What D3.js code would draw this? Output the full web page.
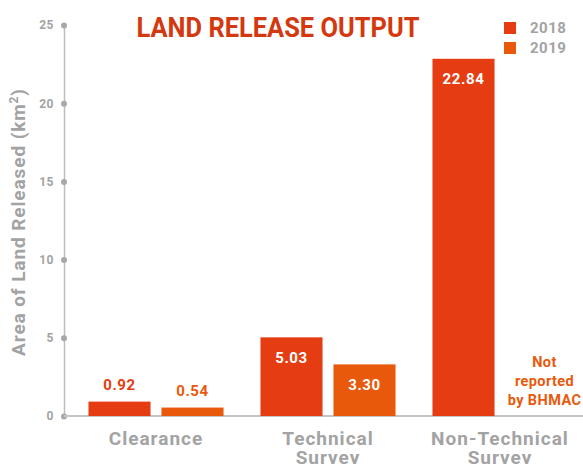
<!DOCTYPE html>
<html>
<head>
<meta charset="utf-8">
<script src="https://cdn.jsdelivr.net/npm/d3@7"></script>
<style>
  body { margin: 0; background: #fff; }
  svg text { font-family: Roboto, "DejaVu Sans", sans-serif; font-weight: bold; }
</style>
</head>
<body>
<div id="chart"></div>
<script>
var categories = ["Clearance", "Technical Survey", "Non-Technical Survey"];
var years = ["2018", "2019"];
var values2018 = [0.92, 5.03, 22.84];
var values2019 = [0.54, 3.30, null];
var yTicks = [0, 5, 10, 15, 20, 25];
var missingNote = ["Not", "reported", "by BHMAC"];

var colors = {"2018": "#e63c12", "2019": "#e9590c"};
var grey = "#a3a3a3";

var svg = d3.select("#chart").append("svg")
  .attr("width", 583)
  .attr("height", 464);

var x = d3.scaleBand()
  .domain(categories)
  .range([70, 586]);

var xs = d3.scaleBand()
  .domain(years)
  .range([0, x.bandwidth()])
  .paddingInner(0.15)
  .paddingOuter(0.253);

var y = d3.scaleLinear()
  .domain([0, 25])
  .range([416, 25]);

// y axis
var yAxis = svg.append("g")
  .attr("transform", "translate(64,0)")
  .call(d3.axisLeft(y).tickValues(yTicks).tickSize(0).tickPadding(10));
yAxis.select(".domain").attr("stroke", "#bdbdbd").attr("stroke-width", 1.5);
yAxis.selectAll("text").attr("fill", grey).style("font-size", "12px").style("letter-spacing", "0.5px");
yAxis.selectAll(".tick").append("circle").attr("r", 3).attr("fill", "#a8a8a8");

// baseline
svg.append("line")
  .attr("x1", 64).attr("x2", 583)
  .attr("y1", y(0)).attr("y2", y(0))
  .attr("stroke", "#c4c4c4").attr("stroke-width", 2);

// bars
var rows = [];
categories.forEach(function(c, i) {
  rows.push({cat: c, year: "2018", value: values2018[i]});
  rows.push({cat: c, year: "2019", value: values2019[i]});
});
var present = rows.filter(function(d) { return d.value != null; });

svg.append("g").selectAll("rect")
  .data(present)
  .enter().append("rect")
  .attr("x", function(d) { return x(d.cat) + xs(d.year); })
  .attr("y", function(d) { return y(d.value); })
  .attr("width", xs.bandwidth())
  .attr("height", function(d) { return y(0) - y(d.value); })
  .attr("fill", function(d) { return colors[d.year]; });

svg.append("g").selectAll("text")
  .data(present)
  .enter().append("text")
  .attr("x", function(d) { return x(d.cat) + xs(d.year) + xs.bandwidth() / 2; })
  .attr("y", function(d) { return d.value < 2 ? y(d.value) - 17 : y(d.value) + 20; })
  .attr("dy", "0.35em")
  .attr("text-anchor", "middle")
  .attr("fill", function(d) { return d.value < 2 ? colors[d.year] : "#fff"; })
  .style("font-size", "15px")
  .style("letter-spacing", "0.6px")
  .text(function(d) { return d.value.toFixed(2); });

// note for the missing bar
rows.filter(function(d) { return d.value == null; }).forEach(function(d) {
  var cx = x(d.cat) + xs(d.year) + xs.bandwidth() / 2 + 8;
  svg.append("text")
    .attr("x", cx)
    .attr("y", 362)
    .attr("text-anchor", "middle")
    .attr("fill", colors[d.year])
    .style("font-size", "14.5px")
    .style("letter-spacing", "0.4px")
    .selectAll("tspan")
    .data(missingNote)
    .enter().append("tspan")
    .attr("x", cx)
    .attr("dy", function(t, i) { return i === 0 ? "0.35em" : "1.3em"; })
    .text(function(t) { return t; });
});

// x labels
svg.append("g").selectAll("text")
  .data(categories)
  .enter().append("text")
  .attr("x", function(d) { return x(d) + x.bandwidth() / 2; })
  .attr("y", 438)
  .attr("text-anchor", "middle")
  .attr("fill", grey)
  .style("font-size", "19px")
  .style("letter-spacing", "1px")
  .each(function(d) {
    var words = d.split(" ");
    var lines = words.length > 1 ? [words.slice(0, -1).join(" "), words[words.length - 1]] : [d];
    var t = d3.select(this);
    lines.forEach(function(l, i) {
      t.append("tspan")
        .attr("x", x(d) + x.bandwidth() / 2)
        .attr("dy", i === 0 ? "0.35em" : "1.0em")
        .text(l);
    });
  });

// y axis title
svg.append("text")
  .attr("transform", "translate(25,222) rotate(-90)")
  .attr("text-anchor", "middle")
  .attr("fill", grey)
  .style("font-size", "19px")
  .style("letter-spacing", "0.9px")
  .html("Area of Land Released (km<tspan dy='-7' style='font-size:12px'>2</tspan><tspan dy='7'>)</tspan>");

// title
svg.append("text")
  .attr("x", 278)
  .attr("y", 37)
  .attr("text-anchor", "middle")
  .attr("fill", "#d4380f")
  .style("font-size", "28px")
  .attr("textLength", 283)
  .attr("lengthAdjust", "spacingAndGlyphs")
  .text("LAND RELEASE OUTPUT");

// legend
var legend = svg.append("g").selectAll("g")
  .data(years)
  .enter().append("g")
  .attr("transform", function(d, i) { return "translate(504," + (22 + i * 20) + ")"; });
legend.append("rect")
  .attr("width", 12).attr("height", 12)
  .attr("fill", function(d) { return colors[d]; });
legend.append("text")
  .attr("x", 26).attr("y", 6)
  .attr("dy", "0.35em")
  .attr("fill", grey)
  .style("font-size", "15px")
  .style("letter-spacing", "0.5px")
  .text(function(d) { return d; });
</script>
</body>
</html>
